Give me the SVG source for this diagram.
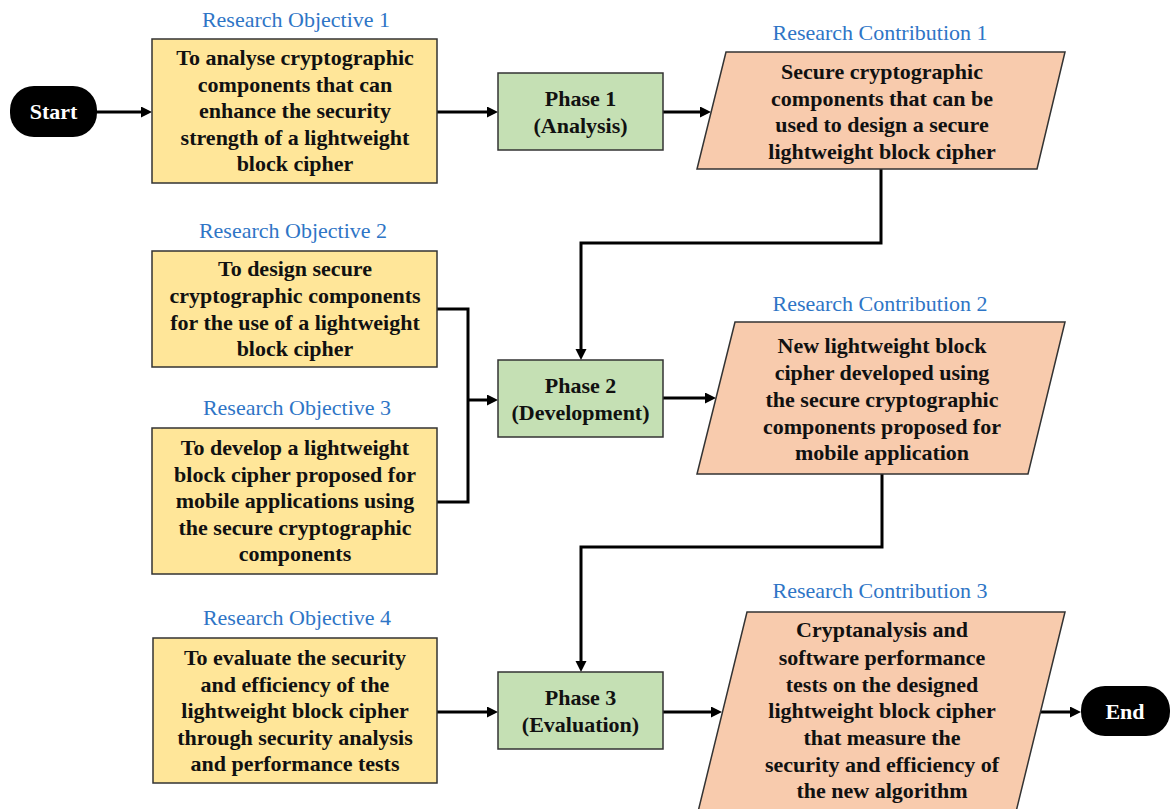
<svg xmlns="http://www.w3.org/2000/svg" width="1171" height="809" viewBox="0 0 1171 809">
<defs>
<style>
.obj{fill:#FFE699;stroke:#333;stroke-width:1.5}
.ph{fill:#C5E0B4;stroke:#333;stroke-width:1.5}
.con{fill:#F8CBAD;stroke:#333;stroke-width:1.5}
.term{fill:#000}
.t{font-family:"Liberation Serif","Times New Roman",serif;font-size:22px;font-weight:bold;fill:#111;text-anchor:middle}
.tw{font-family:"Liberation Serif","Times New Roman",serif;font-size:22px;font-weight:bold;fill:#fff;text-anchor:middle}
.lbl{font-family:"Liberation Serif","Times New Roman",serif;font-size:22px;fill:#2E75C6;text-anchor:middle}
.c{fill:none;stroke:#000;stroke-width:3}
</style>
<marker id="arr" markerWidth="13" markerHeight="13" refX="7" refY="5.5" orient="auto" markerUnits="userSpaceOnUse"><path d="M0,0 L11,5.5 L0,11 z" fill="#000"/></marker>
</defs>
<rect width="1171" height="809" fill="#fff"/>
<g id="connectors">
<path class="c" d="M97,112 H148" marker-end="url(#arr)"/>
<path class="c" d="M437,112 H494" marker-end="url(#arr)"/>
<path class="c" d="M663,112 H707" marker-end="url(#arr)"/>
<path class="c" d="M881,169 V243 H581 V356" marker-end="url(#arr)"/>
<path class="c" d="M437,309 H468 V502 H437"/>
<path class="c" d="M468,400 H494" marker-end="url(#arr)"/>
<path class="c" d="M663,398 H712" marker-end="url(#arr)"/>
<path class="c" d="M882,474 V547 H581 V668" marker-end="url(#arr)"/>
<path class="c" d="M437,712 H494" marker-end="url(#arr)"/>
<path class="c" d="M663,712 H718" marker-end="url(#arr)"/>
<path class="c" d="M1040,712 H1077" marker-end="url(#arr)"/>
</g>
<g id="start">
<rect class="term" x="10" y="86" width="87" height="51" rx="24"/>
<text class="tw" x="53.5" y="119">Start</text>
</g>
<g id="end">
<rect class="term" x="1081" y="686" width="89" height="50" rx="24"/>
<text class="tw" x="1125" y="719">End</text>
</g>
<g id="obj1">
<text class="lbl" x="296" y="27">Research Objective 1</text>
<rect class="obj" x="152" y="39" width="285" height="144"/>
<text class="t" x="295" y="65">To analyse cryptographic</text>
<text class="t" x="295" y="92">components that can</text>
<text class="t" x="295" y="118">enhance the security</text>
<text class="t" x="295" y="145">strength of a lightweight</text>
<text class="t" x="295" y="171">block cipher</text>
</g>
<g id="obj2">
<text class="lbl" x="293" y="238">Research Objective 2</text>
<rect class="obj" x="152" y="251" width="285" height="116"/>
<text class="t" x="295" y="276">To design secure</text>
<text class="t" x="295" y="303">cryptographic components</text>
<text class="t" x="295" y="330">for the use of a lightweight</text>
<text class="t" x="295" y="356">block cipher</text>
</g>
<g id="obj3">
<text class="lbl" x="297" y="415">Research Objective 3</text>
<rect class="obj" x="152" y="428" width="285" height="146"/>
<text class="t" x="295" y="455">To develop a lightweight</text>
<text class="t" x="295" y="482">block cipher proposed for</text>
<text class="t" x="295" y="508">mobile applications using</text>
<text class="t" x="295" y="535">the secure cryptographic</text>
<text class="t" x="295" y="561">components</text>
</g>
<g id="obj4">
<text class="lbl" x="297" y="625">Research Objective 4</text>
<rect class="obj" x="153" y="638" width="284" height="145"/>
<text class="t" x="295" y="665">To evaluate the security</text>
<text class="t" x="295" y="692">and efficiency of the</text>
<text class="t" x="295" y="718">lightweight block cipher</text>
<text class="t" x="295" y="745">through security analysis</text>
<text class="t" x="295" y="771">and performance tests</text>
</g>
<g id="phase1">
<rect class="ph" x="498" y="73" width="165" height="77"/>
<text class="t" x="580.5" y="106">Phase 1</text>
<text class="t" x="580.5" y="133">(Analysis)</text>
</g>
<g id="phase2">
<rect class="ph" x="498" y="360" width="165" height="77"/>
<text class="t" x="580.5" y="393">Phase 2</text>
<text class="t" x="580.5" y="420">(Development)</text>
</g>
<g id="phase3">
<rect class="ph" x="498" y="672" width="165" height="77"/>
<text class="t" x="580.5" y="705">Phase 3</text>
<text class="t" x="580.5" y="732">(Evaluation)</text>
</g>
<g id="contrib1">
<text class="lbl" x="880" y="40">Research Contribution 1</text>
<polygon class="con" points="726,52 1065,52 1037,169 697,169"/>
<text class="t" x="882" y="79">Secure cryptographic</text>
<text class="t" x="882" y="106">components that can be</text>
<text class="t" x="882" y="132">used to design a secure</text>
<text class="t" x="882" y="159">lightweight block cipher</text>
</g>
<g id="contrib2">
<text class="lbl" x="880" y="311">Research Contribution 2</text>
<polygon class="con" points="735,322 1065,322 1028,474 697,474"/>
<text class="t" x="882" y="353">New lightweight block</text>
<text class="t" x="882" y="380">cipher developed using</text>
<text class="t" x="882" y="407">the secure cryptographic</text>
<text class="t" x="882" y="434">components proposed for</text>
<text class="t" x="882" y="460">mobile application</text>
</g>
<g id="contrib3">
<text class="lbl" x="880" y="598">Research Contribution 3</text>
<polygon class="con" points="747,612 1065,612 1014,820 696,820"/>
<text class="t" x="882" y="637">Cryptanalysis and</text>
<text class="t" x="882" y="665">software performance</text>
<text class="t" x="882" y="692">tests on the designed</text>
<text class="t" x="882" y="718">lightweight block cipher</text>
<text class="t" x="882" y="745">that measure the</text>
<text class="t" x="882" y="772">security and efficiency of</text>
<text class="t" x="882" y="798">the new algorithm</text>
</g>
</svg>
